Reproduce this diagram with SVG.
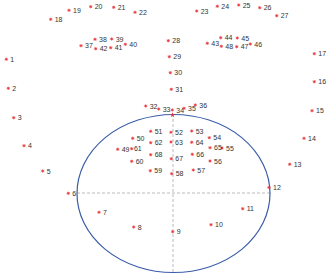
<svg xmlns="http://www.w3.org/2000/svg" xmlns:xlink="http://www.w3.org/1999/xlink" width="331" height="277" viewBox="0 0 331 277">
<style>
.l{font-family:"Liberation Sans",Arial,sans-serif;font-size:7px;fill:#333}
.m{stroke:#e8333a;stroke-width:0.8;fill:none}
.ax{stroke:#aaa;stroke-width:0.8;stroke-dasharray:3,2;fill:none}
</style>
<defs>
<g id="mk"><path class="m" d="M-1.6,0H1.6M0,-1.6V1.6M-1.1,-1.1L1.1,1.1M-1.1,1.1L1.1,-1.1"/></g>
</defs>
<rect width="331" height="277" fill="#fff"/>
<g id="connectors">
<line class="ax" x1="77" y1="193" x2="270" y2="193"/>
<line class="ax" x1="173" y1="114" x2="173" y2="272"/>
</g>
<g id="face">
<ellipse cx="173.5" cy="193.5" rx="96.5" ry="79" fill="none" stroke="#3a5ca8" stroke-width="1.2"/>
<path d="M172.5,112.2L173.2,114L175,114.2L173.6,115.3L174.1,117L172.5,116L170.9,117L171.4,115.3L170,114.2L171.8,114Z" fill="#e8333a"/>
</g>
<g id="p1"><use xlink:href="#mk" x="6.3" y="59.3"/><text class="l" x="10.3" y="61.8">1</text></g>
<g id="p2"><use xlink:href="#mk" x="8.3" y="88.3"/><text class="l" x="12.3" y="90.8">2</text></g>
<g id="p3"><use xlink:href="#mk" x="13.7" y="117.7"/><text class="l" x="17.7" y="120.2">3</text></g>
<g id="p4"><use xlink:href="#mk" x="24" y="145.7"/><text class="l" x="28" y="148.2">4</text></g>
<g id="p5"><use xlink:href="#mk" x="42.7" y="171"/><text class="l" x="46.7" y="173.5">5</text></g>
<g id="p6"><use xlink:href="#mk" x="68.3" y="193.3"/><text class="l" x="72.3" y="195.8">6</text></g>
<g id="p7"><use xlink:href="#mk" x="99" y="212.3"/><text class="l" x="103" y="214.8">7</text></g>
<g id="p8"><use xlink:href="#mk" x="133.7" y="227"/><text class="l" x="137.7" y="229.5">8</text></g>
<g id="p9"><use xlink:href="#mk" x="172.7" y="231.7"/><text class="l" x="176.7" y="234.2">9</text></g>
<g id="p10"><use xlink:href="#mk" x="211" y="224.7"/><text class="l" x="215" y="227.2">10</text></g>
<g id="p11"><use xlink:href="#mk" x="242.7" y="208.7"/><text class="l" x="246.7" y="211.2">11</text></g>
<g id="p12"><use xlink:href="#mk" x="269" y="187.5"/><text class="l" x="273" y="190">12</text></g>
<g id="p13"><use xlink:href="#mk" x="289.7" y="164.3"/><text class="l" x="293.7" y="166.8">13</text></g>
<g id="p14"><use xlink:href="#mk" x="304" y="138.3"/><text class="l" x="308" y="140.8">14</text></g>
<g id="p15"><use xlink:href="#mk" x="312" y="110.7"/><text class="l" x="316" y="113.2">15</text></g>
<g id="p16"><use xlink:href="#mk" x="314.3" y="81.7"/><text class="l" x="318.3" y="84.2">16</text></g>
<g id="p17"><use xlink:href="#mk" x="314.3" y="53.7"/><text class="l" x="318.3" y="56.2">17</text></g>
<g id="p18"><use xlink:href="#mk" x="50.7" y="19.3"/><text class="l" x="54.7" y="21.8">18</text></g>
<g id="p19"><use xlink:href="#mk" x="69" y="10.3"/><text class="l" x="73" y="12.8">19</text></g>
<g id="p20"><use xlink:href="#mk" x="90.7" y="6.7"/><text class="l" x="94.7" y="9.2">20</text></g>
<g id="p21"><use xlink:href="#mk" x="113.7" y="7.3"/><text class="l" x="117.7" y="9.8">21</text></g>
<g id="p22"><use xlink:href="#mk" x="135" y="12.3"/><text class="l" x="139" y="14.8">22</text></g>
<g id="p23"><use xlink:href="#mk" x="196.7" y="11"/><text class="l" x="200.7" y="13.5">23</text></g>
<g id="p24"><use xlink:href="#mk" x="217.3" y="6.3"/><text class="l" x="221.3" y="8.8">24</text></g>
<g id="p25"><use xlink:href="#mk" x="238.7" y="5"/><text class="l" x="242.7" y="7.5">25</text></g>
<g id="p26"><use xlink:href="#mk" x="259.7" y="7.7"/><text class="l" x="263.7" y="10.2">26</text></g>
<g id="p27"><use xlink:href="#mk" x="276.7" y="15.7"/><text class="l" x="280.7" y="18.2">27</text></g>
<g id="p28"><use xlink:href="#mk" x="168.3" y="40.7"/><text class="l" x="172.3" y="43.2">28</text></g>
<g id="p29"><use xlink:href="#mk" x="169.3" y="56.7"/><text class="l" x="173.3" y="59.2">29</text></g>
<g id="p30"><use xlink:href="#mk" x="170.3" y="72.7"/><text class="l" x="174.3" y="75.2">30</text></g>
<g id="p31"><use xlink:href="#mk" x="171.3" y="89.3"/><text class="l" x="175.3" y="91.8">31</text></g>
<g id="p32"><use xlink:href="#mk" x="145.7" y="106"/><text class="l" x="149.7" y="108.5">32</text></g>
<g id="p33"><use xlink:href="#mk" x="158.7" y="109"/><text class="l" x="162.7" y="111.5">33</text></g>
<g id="p34"><use xlink:href="#mk" x="172.3" y="110"/><text class="l" x="176.3" y="112.5">34</text></g>
<g id="p35"><use xlink:href="#mk" x="184" y="108.3"/><text class="l" x="188" y="110.8">35</text></g>
<g id="p36"><use xlink:href="#mk" x="195.3" y="105"/><text class="l" x="199.3" y="107.5">36</text></g>
<g id="p37"><use xlink:href="#mk" x="81" y="45.7"/><text class="l" x="85" y="48.2">37</text></g>
<g id="p38"><use xlink:href="#mk" x="95" y="39.3"/><text class="l" x="99" y="41.8">38</text></g>
<g id="p39"><use xlink:href="#mk" x="111.7" y="39"/><text class="l" x="115.7" y="41.5">39</text></g>
<g id="p40"><use xlink:href="#mk" x="125.3" y="44.3"/><text class="l" x="129.3" y="46.8">40</text></g>
<g id="p41"><use xlink:href="#mk" x="110.7" y="47.7"/><text class="l" x="114.7" y="50.2">41</text></g>
<g id="p42"><use xlink:href="#mk" x="95.7" y="48.7"/><text class="l" x="99.7" y="51.2">42</text></g>
<g id="p43"><use xlink:href="#mk" x="207.3" y="43.3"/><text class="l" x="211.3" y="45.8">43</text></g>
<g id="p44"><use xlink:href="#mk" x="220.7" y="37.7"/><text class="l" x="224.7" y="40.2">44</text></g>
<g id="p45"><use xlink:href="#mk" x="237.3" y="38"/><text class="l" x="241.3" y="40.5">45</text></g>
<g id="p46"><use xlink:href="#mk" x="250.3" y="44"/><text class="l" x="254.3" y="46.5">46</text></g>
<g id="p47"><use xlink:href="#mk" x="236.7" y="46.7"/><text class="l" x="240.7" y="49.2">47</text></g>
<g id="p48"><use xlink:href="#mk" x="221.3" y="46.3"/><text class="l" x="225.3" y="48.8">48</text></g>
<g id="p49"><use xlink:href="#mk" x="117.7" y="149.3"/><text class="l" x="121.7" y="151.8">49</text></g>
<g id="p50"><use xlink:href="#mk" x="132.7" y="138.3"/><text class="l" x="136.7" y="140.8">50</text></g>
<g id="p51"><use xlink:href="#mk" x="150.7" y="131.3"/><text class="l" x="154.7" y="133.8">51</text></g>
<g id="p52"><use xlink:href="#mk" x="171" y="132.3"/><text class="l" x="175" y="134.8">52</text></g>
<g id="p53"><use xlink:href="#mk" x="191.7" y="131"/><text class="l" x="195.7" y="133.5">53</text></g>
<g id="p54"><use xlink:href="#mk" x="209.3" y="137.7"/><text class="l" x="213.3" y="140.2">54</text></g>
<g id="p55"><use xlink:href="#mk" x="222" y="148"/><text class="l" x="226" y="150.5">55</text></g>
<g id="p56"><use xlink:href="#mk" x="210" y="161"/><text class="l" x="214" y="163.5">56</text></g>
<g id="p57"><use xlink:href="#mk" x="193.3" y="170"/><text class="l" x="197.3" y="172.5">57</text></g>
<g id="p58"><use xlink:href="#mk" x="171.7" y="173.7"/><text class="l" x="175.7" y="176.2">58</text></g>
<g id="p59"><use xlink:href="#mk" x="150.3" y="170.7"/><text class="l" x="154.3" y="173.2">59</text></g>
<g id="p60"><use xlink:href="#mk" x="131.7" y="161.3"/><text class="l" x="135.7" y="163.8">60</text></g>
<g id="p61"><use xlink:href="#mk" x="131.7" y="148.7"/><text class="l" x="133.9" y="151.2">61</text></g>
<g id="p62"><use xlink:href="#mk" x="150.7" y="142.7"/><text class="l" x="154.7" y="145.2">62</text></g>
<g id="p63"><use xlink:href="#mk" x="171" y="142"/><text class="l" x="175" y="144.5">63</text></g>
<g id="p64"><use xlink:href="#mk" x="191.7" y="142.3"/><text class="l" x="195.7" y="144.8">64</text></g>
<g id="p65"><use xlink:href="#mk" x="210" y="147.7"/><text class="l" x="214" y="150.2">65</text></g>
<g id="p66"><use xlink:href="#mk" x="192.3" y="154.3"/><text class="l" x="196.3" y="156.8">66</text></g>
<g id="p67"><use xlink:href="#mk" x="171.3" y="158.7"/><text class="l" x="175.3" y="161.2">67</text></g>
<g id="p68"><use xlink:href="#mk" x="150.7" y="154.7"/><text class="l" x="154.7" y="157.2">68</text></g>
</svg>
